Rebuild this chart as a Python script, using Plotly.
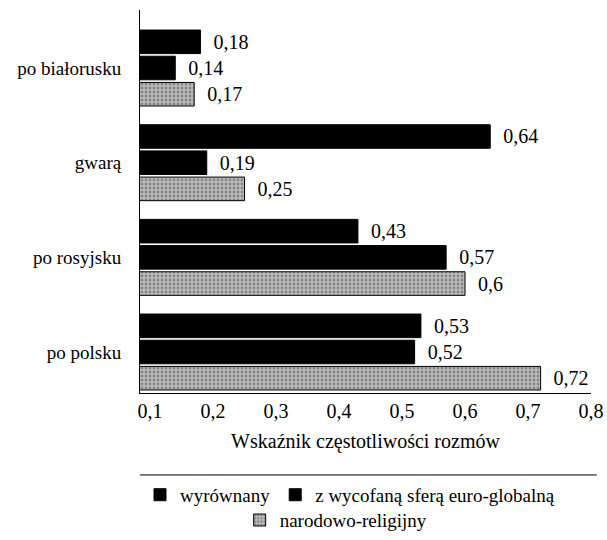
import plotly.graph_objects as go

categories = ["po białorusku", "gwarą", "po rosyjsku", "po polsku"]
series_names = ["wyrównany", "z wycofaną sferą euro-globalną", "narodowo-religijny"]
wyrownany = [0.18, 0.64, 0.43, 0.53]
wycofana = [0.14, 0.19, 0.57, 0.52]
narodowo = [0.17, 0.25, 0.6, 0.72]
tick_values = [0.1, 0.2, 0.3, 0.4, 0.5, 0.6, 0.7, 0.8]
x_title = "Wskaźnik częstotliwości rozmów"

FONT = "Liberation Serif"


def labels(vals):
    return ["  " + str(v).replace(".", ",") for v in vals]


fig = go.Figure()
styles = [
    dict(color="black", line=dict(color="black", width=1)),
    dict(color="black", line=dict(color="black", width=1)),
    dict(color="#b8b8b8", line=dict(color="black", width=1),
         pattern=dict(shape=".", fgcolor="#505050", bgcolor="#bcbcbc", size=4, solidity=0.4)),
]
legends = ["legend", "legend", "legend2"]
for name, vals, st, lg in zip(series_names, [wyrownany, wycofana, narodowo], styles, legends):
    fig.add_trace(go.Bar(
        y=categories, x=vals, name=name, orientation="h",
        marker=st, text=labels(vals), textposition="outside",
        textfont=dict(family=FONT, size=20, color="black"),
        constraintext="none", cliponaxis=False, legend=lg,
    ))

fig.update_layout(
    width=607, height=540,
    margin=dict(l=140, r=16, t=10, b=147, autoexpand=False),
    paper_bgcolor="white", plot_bgcolor="white",
    barmode="group", bargap=0.17, bargroupgap=0.1,
    separators=", ",
    font=dict(family=FONT, size=19, color="black"),
    xaxis=dict(range=[0.084, 0.8], tickvals=tick_values, tickformat=".1f",
               showgrid=False, zeroline=False, showline=True, linecolor="black", linewidth=1,
               ticks="", tickfont=dict(size=20), automargin=False,
               title=dict(text=x_title, standoff=12, font=dict(size=20))),
    yaxis=dict(range=[3.433, -0.613], showgrid=False, zeroline=False, showline=True,
               linecolor="black", linewidth=1, ticks="", ticklabelstandoff=14,
               tickfont=dict(size=19), automargin=False),
    legend=dict(orientation="h", x=0.0, xanchor="left", y=-0.266, yanchor="middle",
                font=dict(size=19), traceorder="normal", itemwidth=30,
                bgcolor="rgba(0,0,0,0)"),
    legend2=dict(orientation="h", x=0.435, xanchor="center", y=-0.332, yanchor="middle",
                 font=dict(size=19), itemwidth=30, bgcolor="rgba(0,0,0,0)"),
    shapes=[dict(type="line", xref="paper", yref="paper", x0=0, x1=1.013,
                 y0=-0.214, y1=-0.214, line=dict(color="black", width=1))],
)

fig.write_html("out.html", post_script="document.body.style.margin='0';",
               config={"displayModeBar": False})
